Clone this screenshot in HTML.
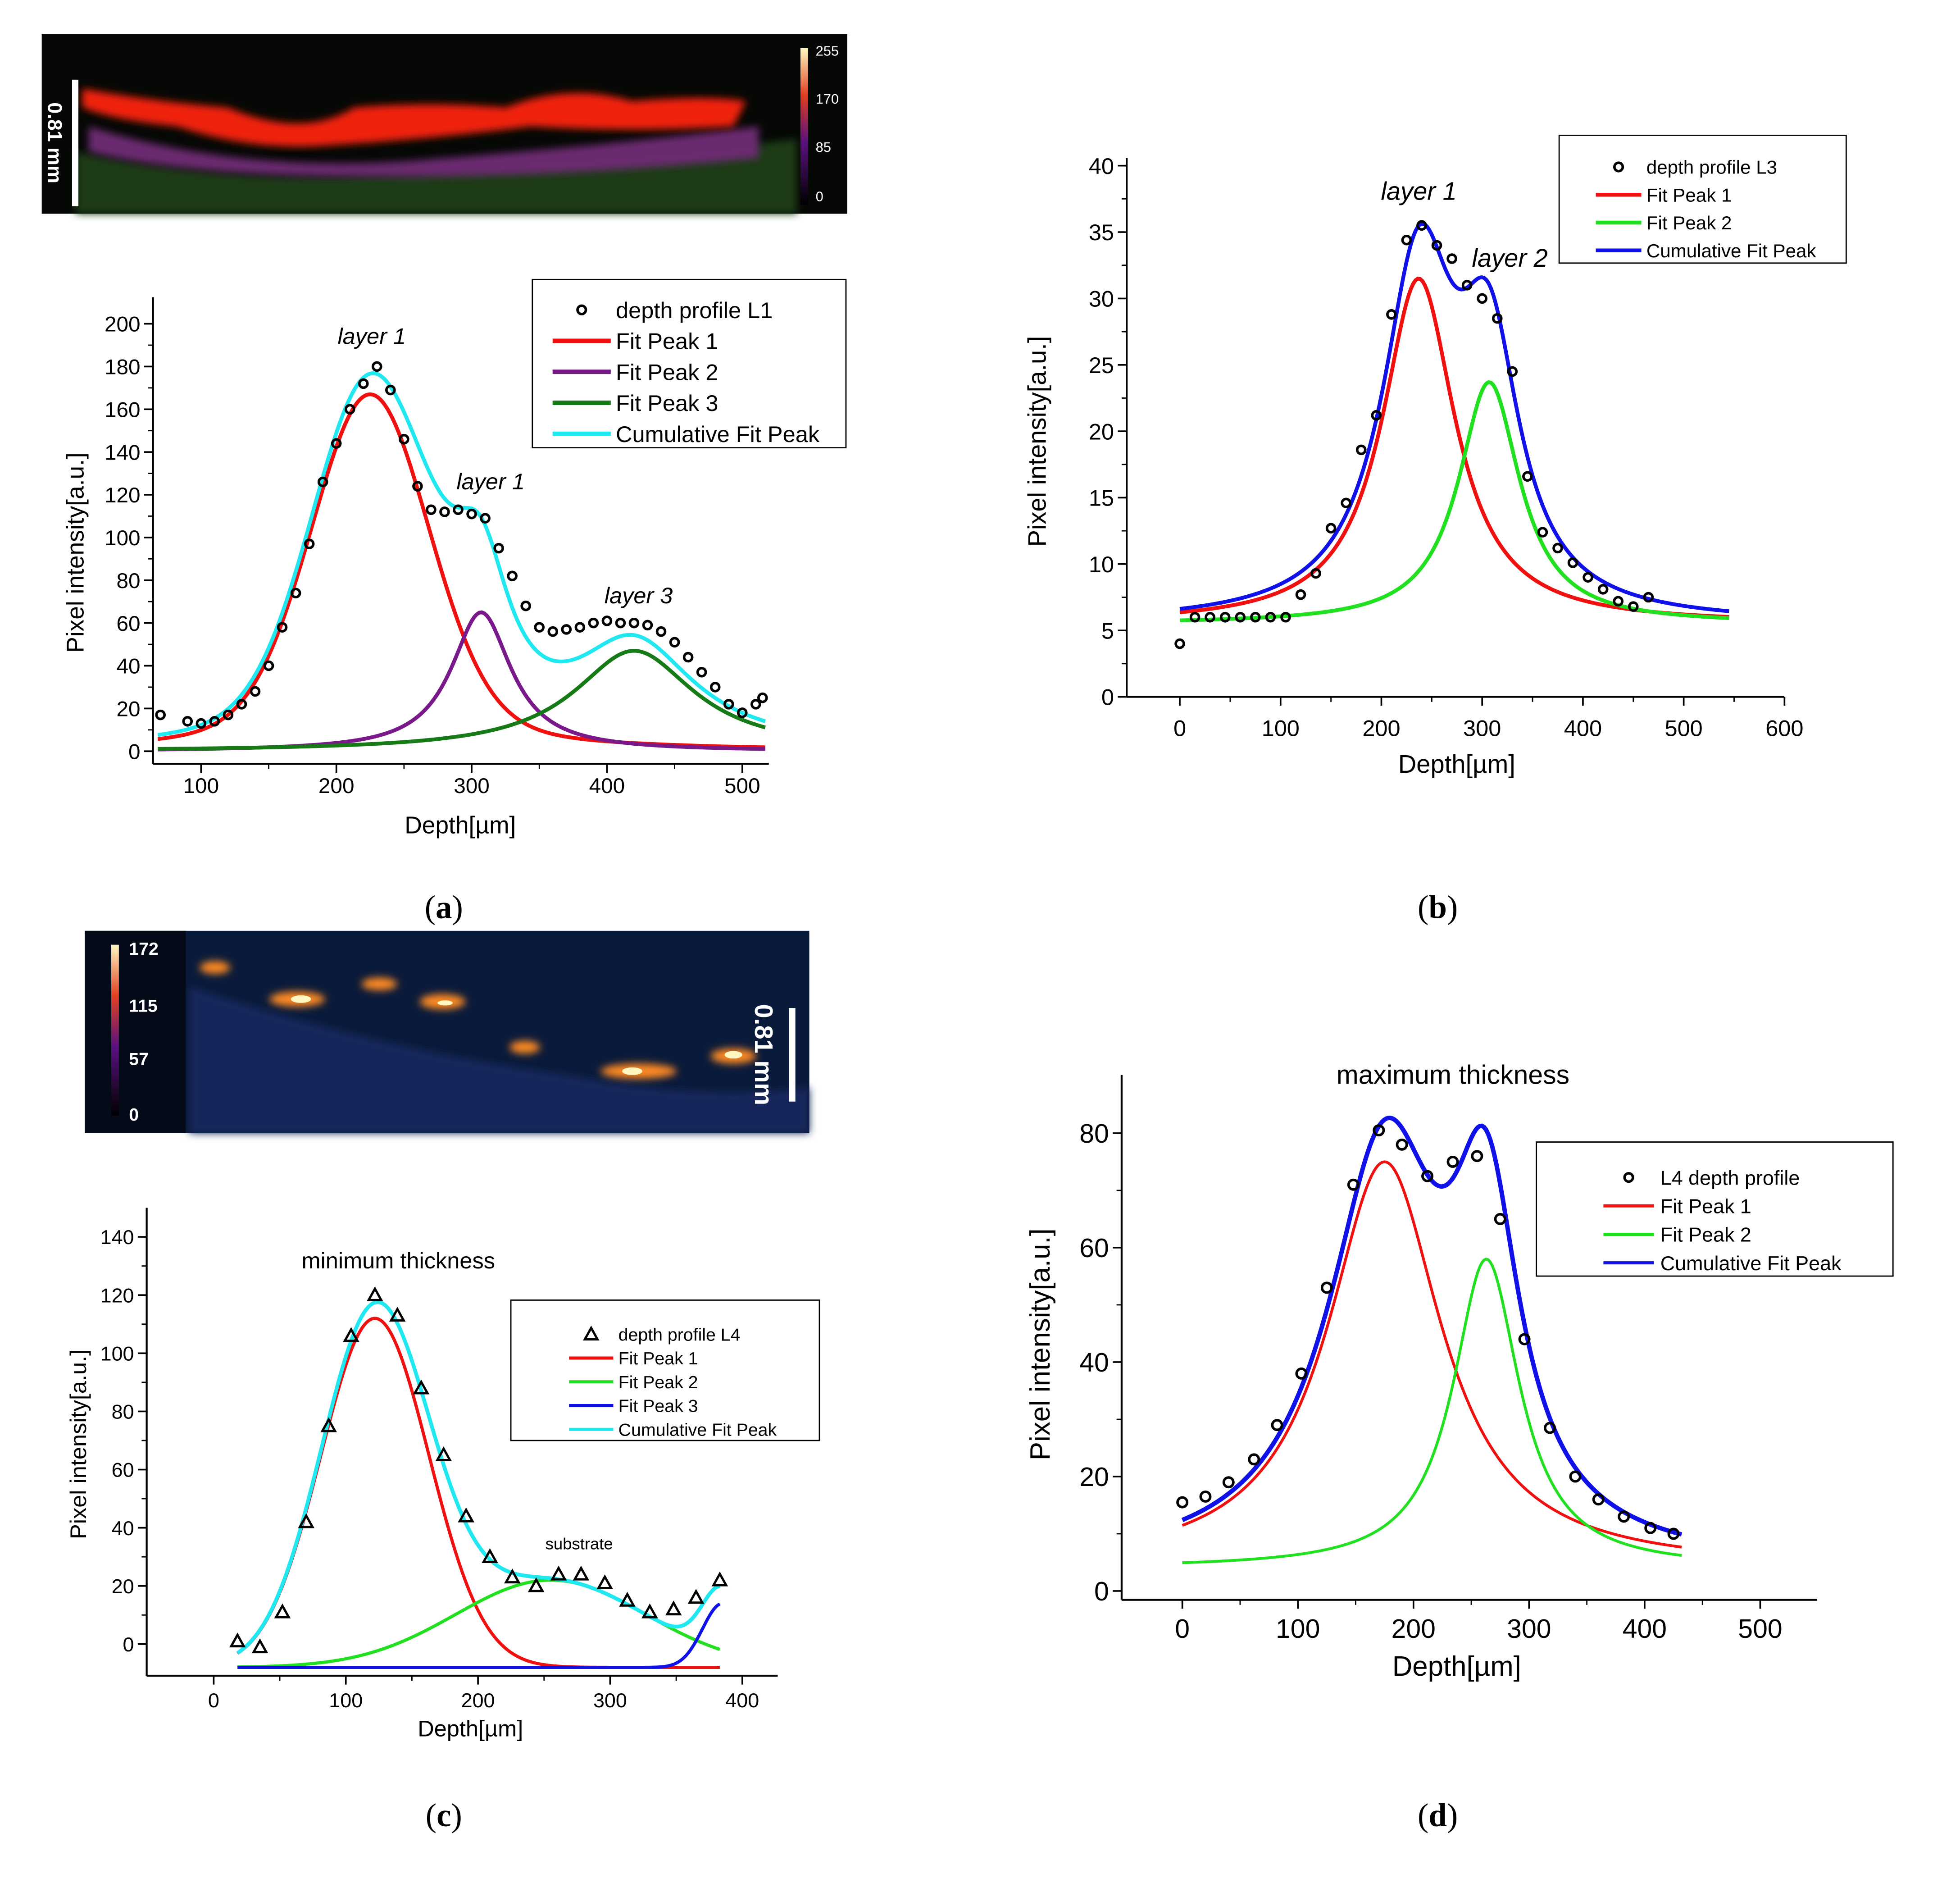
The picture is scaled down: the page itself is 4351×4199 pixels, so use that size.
<!DOCTYPE html>
<html><head><meta charset="utf-8"><style>
html,body{margin:0;padding:0;background:#fff}
svg{display:block}
text{font-family:"Liberation Sans",sans-serif;fill:#000}
</style></head><body>
<svg id="root" xmlns="http://www.w3.org/2000/svg" width="4351" height="4199" viewBox="0 0 1550 1496" preserveAspectRatio="none">
<rect width="1550" height="1496" fill="#fff"/>
<defs>
<linearGradient id="cbA" x1="0" y1="1" x2="0" y2="0"><stop offset="0" stop-color="#000"/><stop offset="0.4" stop-color="#5a1080"/><stop offset="0.7" stop-color="#e04020"/><stop offset="1" stop-color="#fff8c0"/></linearGradient>
<filter id="blur"><feGaussianBlur stdDeviation="3"/></filter>
</defs>
<g>
<rect x="33" y="27" width="637" height="142" fill="#050805"/>
<path d="M60 120 Q200 150 350 135 Q500 125 630 110 L630 169 L60 169Z" fill="#1a3a14" filter="url(#blur)"/>
<path d="M70 100 Q200 140 350 125 Q480 115 600 100 L600 125 Q450 140 300 140 Q150 140 70 120Z" fill="#6a2a70" filter="url(#blur)"/>
<path d="M65 70 Q120 80 180 85 Q240 110 280 85 Q340 80 400 85 Q450 65 500 80 Q560 75 590 80 L580 100 Q500 105 420 100 Q340 110 260 115 Q200 120 140 100 Q90 95 65 85Z" fill="#f02010" filter="url(#blur)"/>
<rect x="57" y="63" width="5" height="100" fill="#fff"/>
<text x="38" y="113" transform="rotate(90 38 113)" font-size="16" font-weight="bold" style="fill:#fff" text-anchor="middle">0.81 mm</text>
<rect x="633" y="38" width="6" height="124" fill="url(#cbA)"/>
<text x="645" y="44" font-size="11" style="fill:#fff">255</text>
<text x="645" y="82" font-size="11" style="fill:#fff">170</text>
<text x="645" y="120" font-size="11" style="fill:#fff">85</text>
<text x="645" y="159" font-size="11" style="fill:#fff">0</text>
</g>
<g>
<rect x="67" y="736" width="573" height="160" fill="#0a1a3a"/>
<rect x="67" y="736" width="80" height="160" fill="#050a18"/>
<path d="M150 780 Q300 830 450 850 Q550 870 640 860 L640 896 L150 896Z" fill="#13285a" filter="url(#blur)"/>
<g fill="#ff8a20" filter="url(#blur)">
<ellipse cx="170" cy="765" rx="12" ry="5"/><ellipse cx="235" cy="790" rx="22" ry="6"/><ellipse cx="300" cy="778" rx="14" ry="5"/><ellipse cx="350" cy="792" rx="18" ry="6"/><ellipse cx="415" cy="828" rx="12" ry="5"/><ellipse cx="505" cy="847" rx="30" ry="6"/><ellipse cx="580" cy="835" rx="18" ry="6"/></g>
<g fill="#fff6c0"><ellipse cx="238" cy="790" rx="8" ry="3"/><ellipse cx="352" cy="793" rx="6" ry="2"/><ellipse cx="500" cy="847" rx="8" ry="3"/><ellipse cx="580" cy="834" rx="7" ry="3"/></g>
<rect x="88" y="747" width="6" height="135" fill="url(#cbA)"/>
<text x="102" y="755" font-size="14" font-weight="bold" style="fill:#fff">172</text>
<text x="102" y="800" font-size="14" font-weight="bold" style="fill:#fff">115</text>
<text x="102" y="842" font-size="14" font-weight="bold" style="fill:#fff">57</text>
<text x="102" y="886" font-size="14" font-weight="bold" style="fill:#fff">0</text>
<rect x="624" y="797" width="5" height="74" fill="#fff"/>
<text x="597" y="834" transform="rotate(90 597 834)" font-size="20" font-weight="bold" style="fill:#fff" text-anchor="middle">0.81 mm</text>
</g>
<text x="351" y="726" font-size="26" style="font-family:'Liberation Serif',serif" text-anchor="middle">(<tspan font-weight="bold">a</tspan>)</text>
<text x="1137" y="726" font-size="26" style="font-family:'Liberation Serif',serif" text-anchor="middle">(<tspan font-weight="bold">b</tspan>)</text>
<text x="351" y="1444" font-size="26" style="font-family:'Liberation Serif',serif" text-anchor="middle">(<tspan font-weight="bold">c</tspan>)</text>
<text x="1137" y="1444" font-size="26" style="font-family:'Liberation Serif',serif" text-anchor="middle">(<tspan font-weight="bold">d</tspan>)</text>
</svg>
<script>
// ---- Panel A data ----
const aX=[70,90,100,110,120,130,140,150,160,170,180,190,200,210,220,230,240,250,260,270,280,290,300,310,320,330,340,350,360,370,380,390,400,410,420,430,440,450,460,470,480,490,500,510,515];
const aY=[17,14,13,14,17,22,28,40,58,74,97,126,144,160,172,180,169,146,124,113,112,113,111,109,95,82,68,58,56,57,58,60,61,60,60,59,56,51,44,37,30,22,18,22,25];
const aCenters=[225,307,420];
const aAmps=[167,65,47];
const aWidths=[70,27,54];
const aSigmas=[43,27,54];
const aEtas=[0.2,1,1];
const aXTicks=[100,200,300,400,500];
const aYTicks=[0,20,40,60,80,100,120,140,160,180,200];
// ---- Panel B data ----
const bX=[0,15,30,45,60,75,90,105,120,135,150,165,180,195,210,225,240,255,270,285,300,315,330,345,360,375,390,405,420,435,450,465];
const bY=[4,6,6,6,6,6,6,6,7.7,9.3,12.7,14.6,18.6,21.2,28.8,34.4,35.5,34,33,31,30,28.5,24.5,16.6,12.4,11.2,10.1,9,8.1,7.2,6.8,7.5];
const bCenters=[237,307];
const bAmps=[26,18.2];
const bWidths=[44,37];
const bBase=[5.5];
const bXTicks=[0,100,200,300,400,500,600];
const bYTicks=[0,5,10,15,20,25,30,35,40];
// ---- Panel C data ----
const cX=[18,35,52,70,87,104,122,139,157,174,191,209,226,244,261,278,296,313,330,348,365,383];
const cY=[1,-1,11,42,75,106,120,113,88,65,44,30,23,20,24,24,21,15,11,12,16,22];
const cCenters=[122,255,385];
const cAmps=[120,30,22];
const cSigmas=[41,72,15];
const cBase=[-8];
const cXTicks=[0,100,200,300,400];
const cYTicks=[0,20,40,60,80,100,120,140];
// ---- Panel D data ----
const dX=[0,20,40,62,82,103,125,148,170,190,212,234,255,275,296,318,340,360,382,405,425];
const dY=[15.5,16.5,19,23,29,38,53,71,80.5,78,72.5,75,76,65,44,28.5,20,16,13,11,10];
const dCenters=[175,263];
const dAmps=[71,54];
const dWidths=[60,35];
const dBase=[4];
const dXTicks=[0,100,200,300,400,500];
const dYTicks=[0,20,40,60,80];

const NS='http://www.w3.org/2000/svg';
const root=document.getElementById('root');
function mk(tag,attrs,parent){const e=document.createElementNS(NS,tag);for(const k in attrs)e.setAttribute(k,attrs[k]);(parent||root).appendChild(e);return e;}
function txt(s,attrs,parent){const e=mk('text',attrs,parent);e.textContent=s;return e;}
const lor=(x,c,a,w)=>a/(1+((x-c)/w)**2);
const gau=(x,c,a,s)=>a*Math.exp(-((x-c)**2)/(2*s*s));
const pv=(x,c,a,w,s,eta)=>eta*lor(x,c,a,w)+(1-eta)*gau(x,c,a,s);

function panel(cfg){
  const g=mk('g',{});
  
  
  const sx=v=>cfg.x0px+(v-cfg.x0)*cfg.kx;
  const sy=v=>cfg.y0px-(v-cfg.y0)*cfg.ky;
  const ax=mk('line',{x1:cfg.axL,x2:cfg.axL,y1:cfg.axT,y2:cfg.axB,stroke:'#000','stroke-width':1.5},g);
  
  const bx=mk('line',{x1:cfg.axL,x2:cfg.axR,y1:cfg.axB,y2:cfg.axB,stroke:'#000','stroke-width':1.5},g);
  
  cfg.xt.forEach((v,i)=>{
    mk('line',{x1:sx(v),x2:sx(v),y1:cfg.axB,y2:cfg.axB+7,stroke:'#000','stroke-width':1.3},g);
    if(i<cfg.xt.length-1){const m=(v+cfg.xt[i+1])/2;mk('line',{x1:sx(m),x2:sx(m),y1:cfg.axB,y2:cfg.axB+4,stroke:'#000','stroke-width':1},g);}
    const t=txt(String(v),{x:sx(v),y:cfg.axB+cfg.xlabOff,'font-size':cfg.fs,'text-anchor':'middle'},g);
    
  });
  cfg.yt.forEach((v,i)=>{
    mk('line',{x1:cfg.axL-7,x2:cfg.axL,y1:sy(v),y2:sy(v),stroke:'#000','stroke-width':1.3},g);
    if(i<cfg.yt.length-1){const m=(v+cfg.yt[i+1])/2;mk('line',{x1:cfg.axL-4,x2:cfg.axL,y1:sy(m),y2:sy(m),stroke:'#000','stroke-width':1},g);}
    const t=txt(String(v),{x:cfg.axL-10,y:sy(v)+cfg.fs*0.36,'font-size':cfg.fs,'text-anchor':'end'},g);
    
  });
  const xl=txt('Depth[\u00b5m]',{x:cfg.xlx,y:cfg.xly,'font-size':cfg.lfs,'text-anchor':'middle'},g);
  
  const yl=txt('Pixel intensity[a.u.]',{x:cfg.ylx,y:cfg.yly,'font-size':cfg.lfs,'text-anchor':'middle',transform:`rotate(-90 ${cfg.ylx} ${cfg.yly})`},g);
  
  cfg.curves.forEach(c=>{
    let d='';
    for(let i=0;i<=240;i++){const x=cfg.cx0+(cfg.cx1-cfg.cx0)*i/240;d+=(i?'L':'M')+sx(x).toFixed(2)+' '+sy(c.f(x)).toFixed(2);}
    const p=mk('path',{d,fill:'none',stroke:c.color,'stroke-width':c.w||3},g);
    
  });
  cfg.px.forEach((x,i)=>{
    let m;
    if(cfg.tri){const X=sx(x),Y=sy(cfg.py[i]);m=mk('path',{d:`M${X} ${Y-5}L${X+5} ${Y+4}L${X-5} ${Y+4}Z`,fill:'none',stroke:'#000','stroke-width':1.8},g);}
    else m=mk('circle',{cx:sx(x),cy:sy(cfg.py[i]),r:cfg.r||3.2,fill:'none',stroke:'#000','stroke-width':2},g);
    
  });
  const L=cfg.leg;
  const lg=mk('g',{},g);
  
  mk('rect',{x:L.x,y:L.y,width:L.w,height:L.h,fill:'#fff',stroke:'#000','stroke-width':1},lg);
  L.items.forEach((it,i)=>{
    const y=L.y0+i*L.dy;
    const e=mk('g',{},lg);
    
    if(it.color==='pt'){
      const cx=(L.l0+L.l1)/2;
      if(cfg.tri)mk('path',{d:`M${cx} ${y-5}L${cx+5} ${y+4}L${cx-5} ${y+4}Z`,fill:'none',stroke:'#000','stroke-width':1.8},e);
      else mk('circle',{cx,cy:y,r:3.3,fill:'none',stroke:'#000','stroke-width':2},e);
    } else mk('line',{x1:L.l0,x2:L.l1,y1:y,y2:y,stroke:it.color,'stroke-width':L.lw},e);
    txt(it.t,{x:L.tx,y:y+L.fs*0.36,'font-size':L.fs},e);
  });
  (cfg.notes||[]).forEach(n=>{
    const t=txt(n.t,{x:n.x,y:n.y,'font-size':n.fs,'text-anchor':'middle','font-style':n.it?'italic':'normal'},g);
    
  });
}

const aF=i=>x=>pv(x,aCenters[i],aAmps[i],aWidths[i],aSigmas[i],aEtas[i]);
panel({name:'chart-a',x0:100,x0px:159,kx:1.07,y0:0,y0px:594,ky:1.69,axL:121,axR:608,axT:235,axB:604,
 xt:aXTicks,yt:aYTicks,fs:17,lfs:19,xlabOff:23,xlx:364,xly:659,ylx:66,yly:437,cx0:68,cx1:517,
 curves:[{name:'fit-peak-1',color:'#f01010',f:aF(0)},{name:'fit-peak-2',color:'#7a1a8a',f:aF(1)},{name:'fit-peak-3',color:'#167a16',f:aF(2)},
 {name:'cumulative-fit',color:'#20e8f0',f:x=>aF(0)(x)+aF(1)(x)+aF(2)(x)}],
 px:aX,py:aY,
 leg:{x:421,y:221,w:248,h:133,y0:245,dy:24.5,l0:437,l1:483,tx:487,fs:18,lw:3.5,items:[{t:'depth profile L1',color:'pt'},{t:'Fit Peak 1',color:'#f01010'},{t:'Fit Peak 2',color:'#7a1a8a'},{t:'Fit Peak 3',color:'#167a16'},{t:'Cumulative Fit Peak',color:'#20e8f0'}]},
 notes:[{t:'layer 1',x:294,y:272,fs:18,it:1},{t:'layer 1',x:388,y:387,fs:18,it:1},{t:'layer 3',x:505,y:477,fs:18,it:1}]});

const bF=i=>x=>lor(x,bCenters[i],bAmps[i],bWidths[i]);
panel({name:'chart-b',x0:0,x0px:933,kx:0.797,y0:0,y0px:551,ky:10.5,axL:891,axR:1411,axT:125,axB:551,
 xt:bXTicks,yt:bYTicks,fs:18,lfs:20,xlabOff:31,xlx:1152,xly:611,ylx:827,yly:349,cx0:0,cx1:545,
 curves:[{name:'fit-peak-1',color:'#f01010',f:x=>bBase[0]+bF(0)(x)},{name:'fit-peak-2',color:'#20e020',f:x=>bBase[0]+bF(1)(x)},
 {name:'cumulative-fit',color:'#1010e8',f:x=>bBase[0]+bF(0)(x)+bF(1)(x)}],
 px:bX,py:bY,
 leg:{x:1233,y:107,w:227,h:101,y0:132,dy:22,l0:1262,l1:1298,tx:1302,fs:15,lw:3,items:[{t:'depth profile L3',color:'pt'},{t:'Fit Peak 1',color:'#f01010'},{t:'Fit Peak 2',color:'#20e020'},{t:'Cumulative Fit Peak',color:'#1010e8'}]},
 notes:[{t:'layer 1',x:1122,y:158,fs:20,it:1},{t:'layer 2',x:1194,y:211,fs:20,it:1}]});

const cF=i=>x=>gau(x,cCenters[i],cAmps[i],cSigmas[i]);
panel({name:'chart-c',x0:0,x0px:169,kx:1.045,y0:0,y0px:1300,ky:2.3,axL:116,axR:615,axT:955,axB:1325,
 xt:cXTicks,yt:cYTicks,fs:16,lfs:18,xlabOff:25,xlx:372,xly:1373,ylx:68,yly:1142,cx0:18,cx1:383,tri:1,
 curves:[{name:'fit-peak-1',color:'#f01010',f:x=>cBase[0]+cF(0)(x),w:2.5},{name:'fit-peak-2',color:'#20e020',f:x=>cBase[0]+cF(1)(x),w:2.5},
 {name:'fit-peak-3',color:'#1010e8',f:x=>cBase[0]+cF(2)(x),w:2.5},{name:'cumulative-fit',color:'#20e8f0',f:x=>cBase[0]+cF(0)(x)+cF(1)(x)+cF(2)(x),w:3}],
 px:cX,py:cY,
 leg:{x:404,y:1028,w:244,h:111,y0:1055,dy:18.8,l0:450,l1:485,tx:489,fs:14,lw:2.5,items:[{t:'depth profile L4',color:'pt'},{t:'Fit Peak 1',color:'#f01010'},{t:'Fit Peak 2',color:'#20e020'},{t:'Fit Peak 3',color:'#1010e8'},{t:'Cumulative Fit Peak',color:'#20e8f0'}]},
 notes:[{t:'minimum thickness',x:315,y:1003,fs:18},{t:'substrate',x:458,y:1225,fs:13}]});

const dF=i=>x=>lor(x,dCenters[i],dAmps[i],dWidths[i]);
panel({name:'chart-d',x0:0,x0px:935,kx:0.914,y0:0,y0px:1258,ky:4.525,axL:887,axR:1437,axT:850,axB:1265,
 xt:dXTicks,yt:dYTicks,fs:21,lfs:22,xlabOff:30,xlx:1152,xly:1325,ylx:830,yly:1063,cx0:0,cx1:432,
 curves:[{name:'fit-peak-1',color:'#f01010',f:x=>dBase[0]+dF(0)(x),w:2.2},{name:'fit-peak-2',color:'#20e020',f:x=>dBase[0]+dF(1)(x),w:2.2},
 {name:'cumulative-fit',color:'#1010e8',f:x=>dBase[0]+dF(0)(x)+dF(1)(x),w:3.5}],
 px:dX,py:dY,r:3.8,
 leg:{x:1215,y:903,w:282,h:106,y0:931,dy:22.5,l0:1268,l1:1308,tx:1313,fs:16,lw:2.5,items:[{t:'L4 depth profile',color:'pt'},{t:'Fit Peak 1',color:'#f01010'},{t:'Fit Peak 2',color:'#20e020'},{t:'Cumulative Fit Peak',color:'#1010e8'}]},
 notes:[{t:'maximum thickness',x:1149,y:857,fs:21}]});
</script>
</body></html>
